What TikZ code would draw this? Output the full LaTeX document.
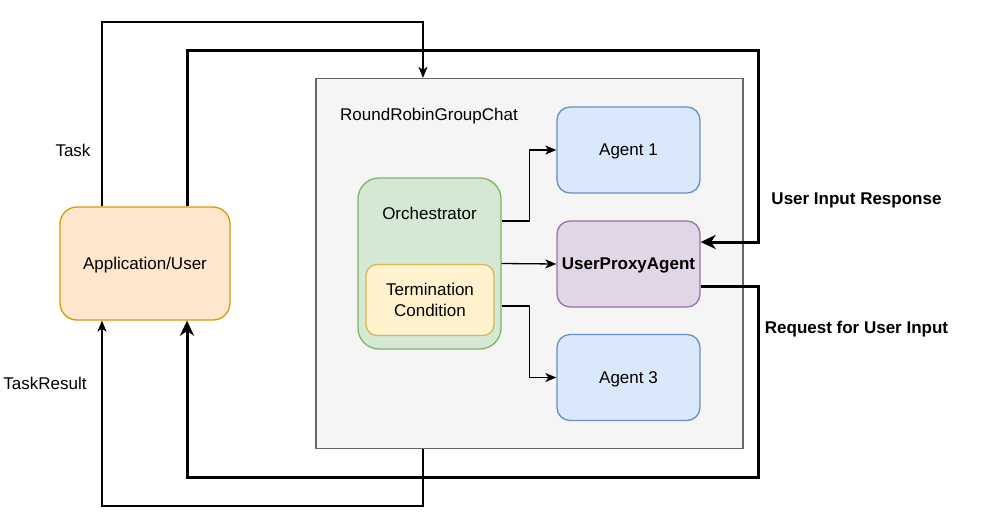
\documentclass[tikz,border=0pt]{standalone}
\usepackage{fontspec}
\setmainfont{Liberation Sans}
\usetikzlibrary{arrows.meta,calc}
\definecolor{contfill}{HTML}{F5F5F5}
\definecolor{contdraw}{HTML}{666666}
\definecolor{bluefill}{HTML}{DAE8FC}
\definecolor{bluedraw}{HTML}{6C8EBF}
\definecolor{purpfill}{HTML}{E1D5E7}
\definecolor{purpdraw}{HTML}{9673A6}
\definecolor{greenfill}{HTML}{D5E8D4}
\definecolor{greendraw}{HTML}{82B366}
\definecolor{yelfill}{HTML}{FFF2CC}
\definecolor{yeldraw}{HTML}{D6B656}
\definecolor{orfill}{HTML}{FFE6CC}
\definecolor{ordraw}{HTML}{D79B00}
\tikzset{
  txt/.style={font=\fontsize{17}{21}\selectfont, inner sep=0pt, text depth=0pt},
  btxt/.style={font=\fontsize{17}{21}\selectfont\bfseries, inner sep=0pt, text depth=0pt},
  box/.style={draw, line width=1.3pt, minimum width=#1, inner sep=0pt, font=\fontsize{17}{21}\selectfont, align=center},
  onebox/.style={box=#1, text depth=0pt},
  agentbox/.style={onebox=143pt, minimum height=86pt, rounded corners=13pt, fill=bluefill, draw=bluedraw},
  thinarrow/.style={line width=1.3pt, -{Stealth[length=11pt,width=9pt,inset=3pt]}},
  thickarrow/.style={line width=3pt, -{Stealth[length=15pt,width=14pt,inset=4.5pt]}},
}
\begin{document}
\begin{tikzpicture}[x=1pt,y=-1pt]
\useasboundingbox (0,0) rectangle (999,522);
% container
\node[draw=contdraw, fill=contfill, line width=1.3pt, minimum width=427pt, minimum height=370pt, inner sep=0pt] (cont) at (529.5,263.5) {};
\node[txt] (contlbl) at (429,114) {RoundRobinGroupChat};
% agents
\node[agentbox] (a1) at (628.5,150) {Agent 1};
\node[onebox=143pt, minimum height=86pt, rounded corners=13pt, fill=purpfill, draw=purpdraw, font=\fontsize{17}{21}\selectfont\bfseries] (upa) at (628.5,264) {UserProxyAgent};
\node[agentbox] (a3) at (628.5,377.5) {Agent 3};
% orchestrator
\node[box=143pt, minimum height=171pt, rounded corners=21pt, fill=greenfill, draw=greendraw] (orch) at (429.5,263.5) {};
\node[txt] (orchlbl) at (429.5,213.5) {Orchestrator};
\node[box=128pt, minimum height=71pt, rounded corners=11pt, fill=yelfill, draw=yeldraw] (term) at (430,300) {Termination\\Condition};
% application
\node[onebox=170pt, minimum height=113pt, rounded corners=17pt, fill=orfill, draw=ordraw] (app) at (145,263.5) {Application/User};
% coordinates
\coordinate (tasktop) at (423,22);
\coordinate (trbot) at (423,506);
\coordinate (rtop) at (758,50);
\coordinate (rbot) at (758,477);
% orchestrator connectors
\draw[thinarrow] ([yshift=42.5pt]orch.east) -- ++(28,0) |- (a1.west);
\draw[thinarrow] (orch.east) -- (upa.west);
\draw[thinarrow] ([yshift=-42.5pt]orch.east) -- ++(28,0) |- (a3.west);
% task
\draw[thinarrow] ([xshift=-43pt]app.north) |- (tasktop) -- ([xshift=-106.5pt]cont.north);
\draw[thinarrow] ([xshift=-106.5pt]cont.south) -- (trbot) -| ([xshift=-43pt]app.south);
% thick
\draw[thickarrow] ([xshift=42pt]app.north) |- (rtop) |- ([yshift=22pt]upa.east);
\draw[thickarrow] ([yshift=-22pt]upa.east) -| (rbot) -| ([xshift=42pt]app.south);
% labels
\node[txt] (tasklbl) at (73,150) {Task};
\node[txt] (trlbl) at (45,383) {TaskResult};
\node[btxt] (uirlbl) at (856.5,199) {User Input Response};
\node[btxt] (rfulbl) at (856.5,327) {Request for User Input};
\end{tikzpicture}
\end{document}
